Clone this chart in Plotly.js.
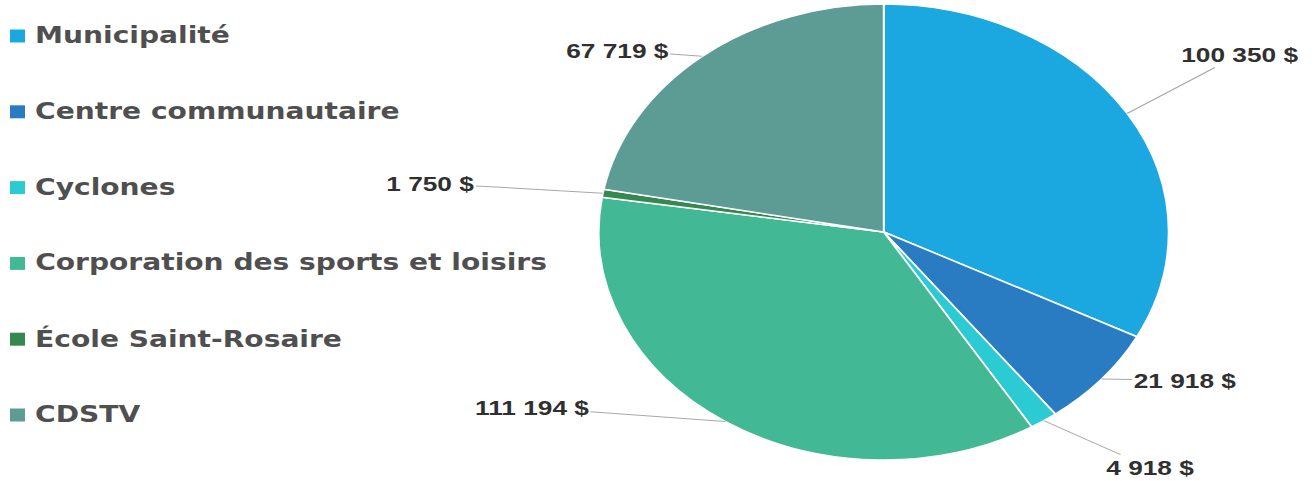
<!DOCTYPE html>
<html>
<head>
<meta charset="utf-8">
<script src="https://cdn.plot.ly/plotly-3.0.1.min.js"></script>
<style>
  html, body { margin: 0; padding: 0; background: #ffffff; overflow: hidden; }
  #wrap { width: 1316px; height: 481px; overflow: hidden; }
  #chart { width: 1053px; height: 481px; transform: scaleX(1.25); transform-origin: 0 0; }
</style>
</head>
<body>
<div id="wrap"><div id="chart"></div></div>
<script>
// ---- data ----
const categories = ["Municipalité", "Centre communautaire", "Cyclones",
                    "Corporation des sports et loisirs", "École Saint-Rosaire", "CDSTV"];
const amounts = [100350, 21918, 4918, 111194, 1750, 67719];
const sliceColors = ["#1ba8e0", "#2a7cc2", "#2ccad3", "#42b994", "#35884f", "#5c9c95"];

// ---- layout helpers (positions / styles) ----
const W = 1053, H = 481;
const pieDomain = { x: [0.4549, 0.8879], y: [0.0437, 0.9917] };
// label offsets (px, unscaled) from slice edge to the label centre
const labelOffsets = [[90, -59], [67, 1], [85, 47], [-155, -14], [-138, -10], [-68, -6]];

function fmt(v) {
  return String(v).replace(/\B(?=(\d{3})+(?!\d))/g, " ") + " $";
}

const total = amounts.reduce((a, b) => a + b, 0);
const cxPx = W * (pieDomain.x[0] + pieDomain.x[1]) / 2;
const cyPx = H * (1 - (pieDomain.y[0] + pieDomain.y[1]) / 2);
const rPx = Math.min(W * (pieDomain.x[1] - pieDomain.x[0]), H * (pieDomain.y[1] - pieDomain.y[0])) / 2;

const annotations = [];
let cum = 0;
amounts.forEach((v, i) => {
  const mid = (cum + v / 2) / total * 2 * Math.PI;
  cum += v;
  const px = cxPx + rPx * Math.sin(mid);
  const py = cyPx - rPx * Math.cos(mid);
  annotations.push({
    x: px / W, y: 1 - py / H, xref: "paper", yref: "paper",
    text: fmt(v), showarrow: true, arrowhead: 0, arrowwidth: 1, arrowcolor: "#a8a8a8",
    ax: labelOffsets[i][0], ay: labelOffsets[i][1], standoff: 0, startstandoff: 0,
    font: { family: "Liberation Sans, Arial, sans-serif", size: 21, color: "#303030", weight: 700 }
  });
});

// custom legend (left column)
const shapes = [];
const legTop = 35, legStep = 75.8, legTextX = 26, swX0 = 8, swW = 12, swH = 13;
categories.forEach((c, i) => {
  const yc = legTop + i * legStep;
  annotations.push({
    x: legTextX / W, y: 1 - yc / H, xref: "paper", yref: "paper",
    xanchor: "left", yanchor: "middle", showarrow: false, text: c,
    font: { family: "DejaVu Sans, sans-serif", size: 22.5, color: "#4f4f4f", weight: 700 }
  });
  shapes.push({
    type: "rect", xref: "paper", yref: "paper",
    x0: swX0 / W, x1: (swX0 + swW) / W,
    y0: 1 - (yc + 1 + swH / 2) / H, y1: 1 - (yc + 1 - swH / 2) / H,
    fillcolor: sliceColors[i], line: { width: 0 }
  });
});

const trace = {
  type: "pie",
  labels: categories,
  values: amounts,
  sort: false,
  direction: "clockwise",
  rotation: 0,
  textinfo: "none",
  hoverinfo: "label+value",
  marker: { colors: sliceColors, line: { color: "#ffffff", width: 1.5 } },
  domain: pieDomain,
  showlegend: false
};

const layout = {
  width: W, height: H,
  margin: { l: 0, r: 0, t: 0, b: 0 },
  paper_bgcolor: "#ffffff",
  showlegend: false,
  annotations: annotations,
  shapes: shapes
};

Plotly.newPlot("chart", [trace], layout, { displayModeBar: false, staticPlot: true });
</script>
</body>
</html>
